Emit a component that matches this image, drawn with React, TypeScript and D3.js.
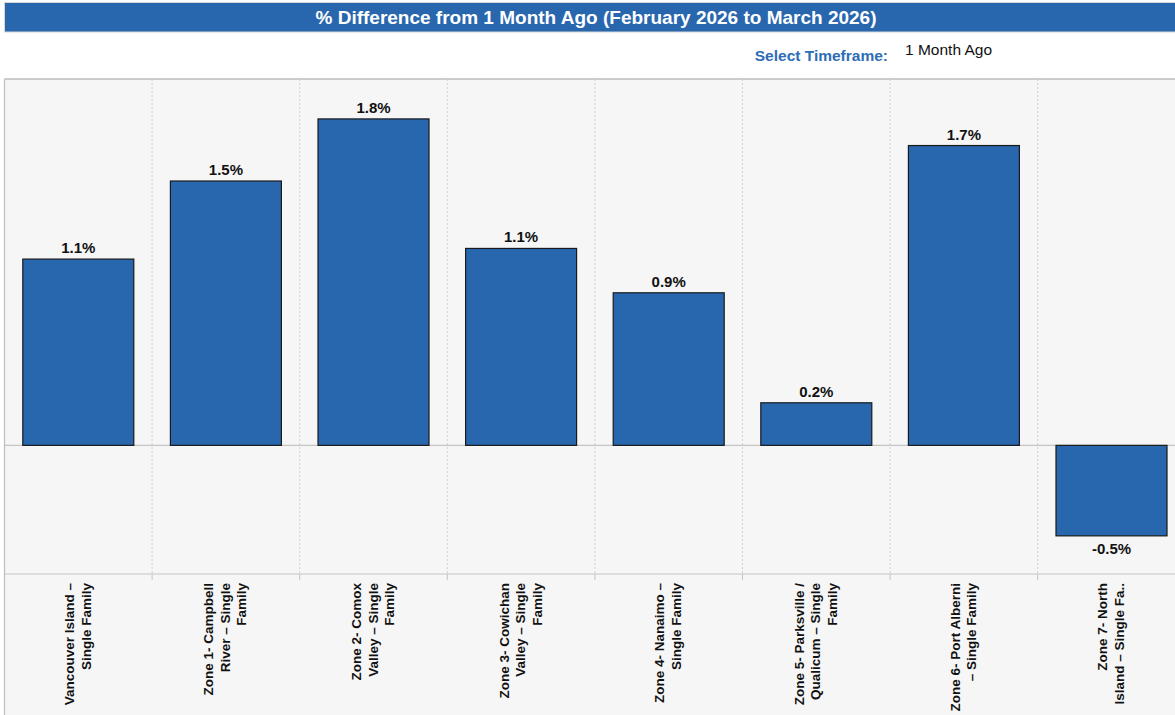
import React from "react";
import * as d3 from "d3";

const TITLE = "% Difference from 1 Month Ago (February 2026 to March 2026)";
const categories: string[][] = [
  ["Vancouver Island –", "Single Family"],
  ["Zone 1- Campbell", "River – Single", "Family"],
  ["Zone 2- Comox", "Valley – Single", "Family"],
  ["Zone 3- Cowichan", "Valley – Single", "Family"],
  ["Zone 4- Nanaimo –", "Single Family"],
  ["Zone 5- Parksville /", "Qualicum – Single", "Family"],
  ["Zone 6- Port Alberni", "– Single Family"],
  ["Zone 7- North", "Island – Single Fa.."],
];
const values: number[] = [1.05, 1.49, 1.84, 1.11, 0.86, 0.24, 1.69, -0.51];
const labels: string[] = ["1.1%", "1.5%", "1.8%", "1.1%", "0.9%", "0.2%", "1.7%", "-0.5%"];
const yDomain: [number, number] = [-0.725, 2.065];

const W = 1175;
const H = 715;
const plotLeft = 4.5;
const plotTop = 79;
const plotBottom = 574;
const colWidth = 147.6;
const FONT = "Arial, 'Liberation Sans', Helvetica, sans-serif";
const BLUE = "#2866ae";

export default function App() {
  const x = d3
    .scaleBand<number>()
    .domain(d3.range(categories.length))
    .range([plotLeft, plotLeft + colWidth * categories.length])
    .paddingInner(0)
    .paddingOuter(0);
  const y = d3.scaleLinear().domain(yDomain).range([plotBottom, plotTop]);
  const bw = x.bandwidth() * 0.752;
  const y0 = y(0);

  return (
    <svg
      width={W}
      height={H}
      style={{ position: "absolute", left: 0, top: 0, display: "block" }}
      fontFamily={FONT}
    >
      <rect x={0} y={0} width={W} height={H} fill="#ffffff" />
      {/* header */}
      <rect x={4.5} y={2.5} width={W} height={29.5} fill={BLUE} stroke="#d6d6d6" strokeWidth={1} />
      <text x={596} y={24} textAnchor="middle" fill="#ffffff" fontWeight="bold" fontSize={19}>
        {TITLE}
      </text>
      <text x={888} y={61} textAnchor="end" fill="#2d6db5" fontWeight="bold" fontSize={15.5}>
        Select Timeframe:
      </text>
      <text x={905} y={55} fill="#111" fontSize={15.5}>
        1 Month Ago
      </text>
      {/* plot area */}
      <rect x={plotLeft} y={plotTop} width={W} height={H - plotTop} fill="#f6f6f6" />
      <line x1={plotLeft} x2={W} y1={plotTop} y2={plotTop} stroke="#bdbdbd" strokeWidth={1.5} />
      <line x1={plotLeft} x2={plotLeft} y1={plotTop} y2={H} stroke="#bdbdbd" strokeWidth={1.2} />
      <line x1={plotLeft} x2={W} y1={plotBottom} y2={plotBottom} stroke="#c4c4c4" strokeWidth={1.2} />
      {d3.range(1, categories.length).map((i) => (
        <g key={"sep" + i}>
          <line
            x1={x(i)!}
            x2={x(i)!}
            y1={plotTop}
            y2={plotBottom}
            stroke="#d0d0d0"
            strokeDasharray="2,2"
            strokeWidth={1}
          />
          <line x1={x(i)!} x2={x(i)!} y1={plotBottom} y2={plotBottom + 6} stroke="#c4c4c4" strokeWidth={1} />
        </g>
      ))}
      <line x1={plotLeft} x2={W} y1={y0} y2={y0} stroke="#c4c4c4" strokeWidth={1.2} />
      {values.map((v, i) => {
        const cx = x(i)! + x.bandwidth() / 2;
        const top = Math.min(y(v), y0);
        const h = Math.abs(y(v) - y0);
        return (
          <g key={"bar" + i}>
            <rect
              x={cx - bw / 2}
              y={top}
              width={bw}
              height={h}
              fill={BLUE}
              stroke="#1a1a1a"
              strokeWidth={1.2}
            />
            <text
              x={cx}
              y={v >= 0 ? y(v) - 6 : y(v) + 18}
              textAnchor="middle"
              fontWeight="bold"
              fontSize={15}
              fill="#111"
            >
              {labels[i]}
            </text>
          </g>
        );
      })}
      {categories.map((lines, i) => {
        const cx = x(i)! + x.bandwidth() / 2;
        const lh = 16.5;
        const first = cx - ((lines.length - 1) * lh) / 2;
        return (
          <g key={"lab" + i}>
            {lines.map((ln, j) => (
              <text
                key={j}
                transform={`translate(${first + j * lh + 4},583) rotate(-90)`}
                textAnchor="end"
                fontWeight="bold"
                fontSize={13.5}
                fill="#111"
              >
                {ln}
              </text>
            ))}
          </g>
        );
      })}
    </svg>
  );
}
